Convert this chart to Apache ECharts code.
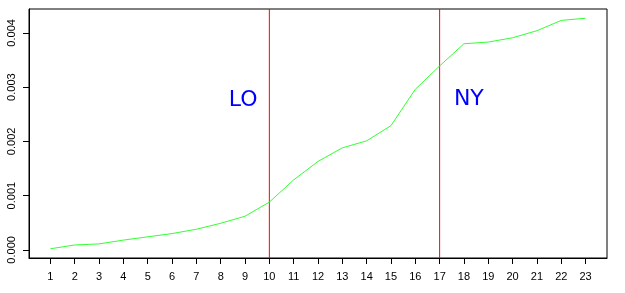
<!DOCTYPE html>
<html>
<head>
<meta charset="utf-8">
<script src="https://cdn.jsdelivr.net/npm/echarts@6/dist/echarts.min.js"></script>
<style>
  html, body { margin: 0; padding: 0; background: #fff; }
  #chart { width: 625px; height: 293px; }
</style>
</head>
<body>
<div id="chart"></div>
<script>
// x positions (1..23) and series values
const xValues = [1, 2, 3, 4, 5, 6, 7, 8, 9, 10, 11, 12, 13, 14, 15, 16, 17, 18, 19, 20, 21, 22, 23];
const yValues = [0.00002, 0.00009, 0.00011, 0.00018, 0.00024, 0.0003, 0.00038, 0.00049, 0.00062, 0.00088,
  0.00129, 0.00163, 0.00188, 0.00201, 0.00229, 0.00296, 0.00339, 0.0038, 0.00383, 0.00391,
  0.00404, 0.00423, 0.00427];
const yTicks = [0, 0.001, 0.002, 0.003, 0.004];
// vertical reference lines
const vLines = [10, 17];
// annotations: [x, y, text]
const notes = [[8.92, 0.00276, 'LO'], [18.2, 0.00278, 'NY']];

const chart = echarts.init(document.getElementById('chart'));

// R-style axis padding: 4% beyond the data range
const xPad = (xValues[xValues.length - 1] - xValues[0]) * 0.04;
const yMin = Math.min(...yValues), yMax = Math.max(...yValues);
const yPad = (yMax - yMin) * 0.04;
const yLo = yMin - yPad, yHi = yMax + yPad;

const labelFont = { color: '#000', fontSize: 11, fontFamily: 'Liberation Sans, Arial, sans-serif' };

// one line series per vertical red line, spanning the whole y range
const vSeries = vLines.map((v) => ({
  type: 'line',
  data: [[v, yLo], [v, yHi]],
  symbol: 'none',
  z: 2,
  silent: true,
  lineStyle: { color: '#ff0000', width: 1 },
}));

chart.setOption({
  animation: false,
  backgroundColor: '#fff',
  grid: {
    left: 29, top: 9, right: 18, bottom: 35,
    show: true, borderColor: '#000', borderWidth: 1,
  },
  xAxis: {
    type: 'value',
    min: xValues[0] - xPad,
    max: xValues[xValues.length - 1] + xPad,
    axisLine: { onZero: false, lineStyle: { color: '#000' } },
    axisTick: { show: true, length: 6, customValues: xValues, lineStyle: { color: '#000' } },
    axisLabel: { ...labelFont, margin: 13, customValues: xValues },
    splitLine: { show: false },
  },
  yAxis: {
    type: 'value',
    min: yLo,
    max: yHi,
    axisLine: { show: true, onZero: false, lineStyle: { color: '#000' } },
    axisTick: { show: true, length: 6, customValues: yTicks, lineStyle: { color: '#000' } },
    axisLabel: {
      ...labelFont,
      rotate: 90,
      margin: 12,
      customValues: yTicks,
      formatter: (v) => v.toFixed(3),
    },
    splitLine: { show: false },
  },
  series: [
    {
      type: 'line',
      data: xValues.map((x, i) => [x, yValues[i]]),
      symbol: 'none',
      z: 3,
      lineStyle: { color: '#33ff33', width: 1 },
      markPoint: {
        symbol: 'circle',
        symbolSize: 0,
        label: {
          show: true,
          color: '#0000ff',
          fontSize: 22,
          fontFamily: 'DejaVu Sans',
          formatter: (p) => p.name,
        },
        data: notes.map((n) => ({ coord: [n[0], n[1]], name: n[2] })),
      },
    },
    ...vSeries,
  ],
});
</script>
</body>
</html>
